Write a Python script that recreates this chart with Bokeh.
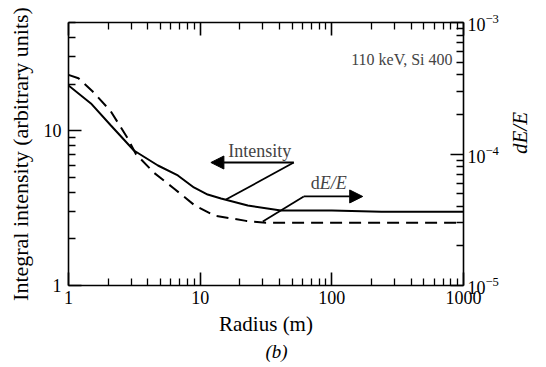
import math
from bokeh.plotting import figure
from bokeh.models import (LogAxis, Range1d, Label, Arrow, NormalHead, Title,
                          CustomJSTickFormatter, LogScale, FixedTicker,
                          LogTickFormatter)
from bokeh.embed import file_html
from bokeh.resources import INLINE

# ---- data ----
radius_int = [1, 1.48, 2.1, 3.14, 4.78, 6.77, 8.96, 11.4, 14.4, 23, 41, 100, 238, 1000]
intensity = [19.6, 15.0, 10.8, 7.45, 5.96, 5.14, 4.30, 3.87, 3.65, 3.29, 3.05, 3.05, 3.0, 3.0]

radius_de = [1, 1.19, 1.52, 2.09, 2.81, 3.25, 4.46, 6.32, 9.1, 12.9, 22.3, 31.6, 100, 1000]
de_over_e = [4.0e-4, 3.77e-4, 3.0e-4, 2.12e-4, 1.32e-4, 1.0e-4, 7.2e-5, 5.47e-5, 4.06e-5,
             3.4e-5, 3.1e-5, 3.0e-5, 3.0e-5, 3.0e-5]

x_major = [1, 10, 100, 1000]
x_minor = [m * d for d in (1, 10, 100) for m in range(2, 10)]
left_major = [1, 10]
left_minor = [2, 3, 4, 5, 6, 7, 8, 9, 20, 30, 40, 50]
right_major = [1e-5, 1e-4, 1e-3]
right_minor = [m * d for d in (1e-5, 1e-4) for m in range(2, 10)]

FONT = "Liberation Serif"

p = figure(width=546, height=367, x_axis_type="log", y_axis_type="log",
           x_range=Range1d(1, 1000), y_range=Range1d(1, 50),
           output_backend="svg", toolbar_location=None,
           min_border_left=68, min_border_right=83, min_border_top=22,
           min_border_bottom=82)
p.extra_y_ranges = {"r": Range1d(1e-5, 1e-3)}
p.extra_y_scales = {"r": LogScale()}
p.grid.visible = False
p.outline_line_color = None
p.background_fill_color = "white"
p.border_fill_color = "white"

bottom_ax = p.below[0]
left_ax = p.left[0]
right_ax = LogAxis(y_range_name="r")
top_ax = LogAxis()
p.add_layout(right_ax, "right")
p.add_layout(top_ax, "above")

for ax in [bottom_ax, left_ax, right_ax, top_ax]:
    ax.axis_line_color = "black"
    ax.axis_line_width = 1.6
    ax.major_tick_in = 13
    ax.major_tick_out = 0
    ax.minor_tick_in = 7
    ax.minor_tick_out = 0
    ax.major_tick_line_color = "black"
    ax.minor_tick_line_color = "black"
    ax.major_tick_line_width = 1.6
    ax.minor_tick_line_width = 1.3
    ax.major_label_text_font = FONT
    ax.major_label_text_font_size = "18px"
    ax.major_label_text_color = "black"
    ax.axis_label_text_font = FONT
    ax.axis_label_text_font_style = "normal"
    ax.axis_label_text_font_size = "22px"
    ax.axis_label_text_color = "black"

num_fmt = CustomJSTickFormatter(code="return String(Math.round(tick));")
blank_fmt = CustomJSTickFormatter(code="return '';")

bottom_ax.ticker = FixedTicker(ticks=x_major, minor_ticks=x_minor)
top_ax.ticker = FixedTicker(ticks=x_major, minor_ticks=x_minor)
left_ax.ticker = FixedTicker(ticks=left_major, minor_ticks=left_minor)
right_ax.ticker = FixedTicker(ticks=right_major, minor_ticks=right_minor)

bottom_ax.formatter = num_fmt
bottom_ax.major_label_standoff = 5
bottom_ax.axis_label = "Radius (m)"
bottom_ax.axis_label_text_font_size = "21px"
bottom_ax.axis_label_standoff = 5

left_ax.formatter = num_fmt
left_ax.major_label_standoff = 7
left_ax.axis_label = "Integral intensity (arbitrary units)"
left_ax.axis_label_standoff = 8

right_ax.formatter = LogTickFormatter()
right_ax.major_label_standoff = 4
right_ax.axis_label = "dE/E"
right_ax.axis_label_text_font_style = "italic"
right_ax.axis_label_text_font_size = "21px"
right_ax.axis_label_standoff = 18
right_ax.axis_label_orientation = math.pi / 2

top_ax.formatter = blank_fmt
top_ax.major_label_text_font_size = "0px"

p.add_layout(Title(text="(b)", align="left", offset=197, standoff=0, text_font=FONT,
                   text_font_style="italic", text_font_size="19px",
                   text_color="black"), "below")

# curves
p.line(radius_int, intensity, line_color="black", line_width=2)
p.line(radius_de, de_over_e, y_range_name="r", line_color="black", line_width=2,
       line_dash="12 7")

# annotations: Intensity arrow (left) and leader
p.add_layout(Arrow(end=NormalHead(size=13, fill_color="black", line_color="black"),
                   x_start=51.4, y_start=6.23, x_end=12.06, y_end=6.23,
                   line_color="black", line_width=1.8))
p.line([15.7, 51.4], [3.59, 6.23], line_color="black", line_width=1.8)
p.add_layout(Label(x=28.4, y=7.34, text="Intensity", text_font=FONT,
                   text_font_size="18px", text_align="center", text_baseline="middle"))

# dE/E arrow (right) and leader
p.add_layout(Arrow(end=NormalHead(size=13, fill_color="black", line_color="black"),
                   x_start=61.2, y_start=3.76, x_end=171.6, y_end=3.76,
                   line_color="black", line_width=1.8))
p.line([29.9, 61.2], [2.59, 3.76], line_color="black", line_width=1.8)
p.add_layout(Label(x=100, y=4.56, x_offset=-12, text="d", text_font=FONT,
                   text_font_size="18px", text_align="right", text_baseline="middle"))
p.add_layout(Label(x=100, y=4.56, x_offset=-12, text="E/E", text_font=FONT,
                   text_font_style="italic", text_font_size="18px",
                   text_align="left", text_baseline="middle"))

# top-right note
p.add_layout(Label(x=1000, y=28.8, x_offset=-11, text="110 keV, Si 400", text_font=FONT,
                   text_font_size="16px", text_align="right", text_baseline="middle"))

open("out.html", "w").write(file_html(p, INLINE))
